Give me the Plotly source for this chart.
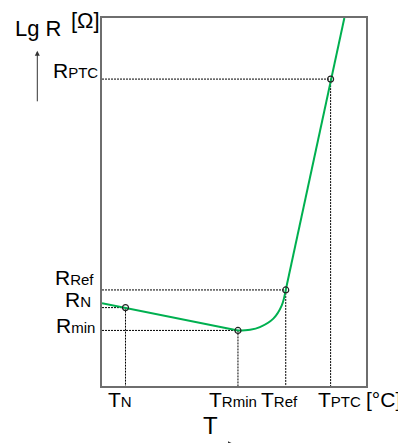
import plotly.graph_objects as go

# ---- data (arbitrary units: T 0..100 across the box, lgR 0..100 up the box)
left_T = [0, 51.5]
left_R = [22.5, 15.1]
bend_T = [51.5, 56.1, 59.8, 64.9, 68.1, 69.6]
bend_R = [15.1, 15.3, 16.0, 18.3, 21.9, 26.1]
steep_T = [69.6, 86.6, 91.8]
steep_R = [26.1, 83.4, 100.0]

point_T = [8.9, 51.5, 69.6, 86.6]
point_R = [21.3, 15.1, 26.1, 83.4]
point_T_sub = ["N", "Rmin", "Ref", "PTC"]
point_R_sub = ["N", "min", "Ref", "PTC"]

GREEN = "#00b050"
FONT = "Arial, Liberation Sans, sans-serif"
BIG = 21
SMALL = 15

fig = go.Figure()

# dashed guide lines
for t, r in zip(point_T, point_R):
    fig.add_trace(go.Scatter(x=[0, t], y=[r, r], mode="lines",
                             line=dict(color="black", width=1, dash="2px,1px"),
                             hoverinfo="skip", showlegend=False))
    fig.add_trace(go.Scatter(x=[t, t], y=[r, 0], mode="lines",
                             line=dict(color="black", width=1, dash="2px,1px"),
                             hoverinfo="skip", showlegend=False))

# curve
fig.add_trace(go.Scatter(x=left_T, y=left_R, mode="lines",
                         line=dict(color=GREEN, width=2), showlegend=False))
fig.add_trace(go.Scatter(x=bend_T, y=bend_R, mode="lines",
                         line=dict(color=GREEN, width=2, shape="spline", smoothing=1.0),
                         showlegend=False))
fig.add_trace(go.Scatter(x=steep_T, y=steep_R, mode="lines",
                         line=dict(color=GREEN, width=2), showlegend=False))

# markers
fig.add_trace(go.Scatter(x=point_T, y=point_R, mode="markers",
                         marker=dict(size=6, color="rgba(255,255,255,0)",
                                     line=dict(color="#222", width=1.2)),
                         showlegend=False))

OFF = 8  # page body margin
W, H = 406, 443
L, T_ = 102 - OFF, 16 - OFF
R_ = W + OFF - 366
B_ = H + OFF - 386
PW, PH = W - L - R_, H - T_ - B_


def px(x):
    return (x - OFF - L) / PW


def py(y):
    return (H - B_ - (y - OFF)) / PH


def lab(sub):
    return f"R<span style='font-size:{SMALL}px'>{sub}</span>"


def tlab(sub):
    return f"T<span style='font-size:{SMALL}px'>{sub}</span>"


ann = []
# R labels (right-aligned at left of box), placed by baseline pixel
for s, xr, base in zip(point_R_sub, [93, 97, 96, 100], [307.7, 334, 285, 77]):
    ann.append(dict(x=px(xr), y=py(base + 5), xref="paper", yref="paper",
                    text=lab(s), showarrow=False, xanchor="right", yanchor="bottom",
                    font=dict(size=BIG, family=FONT, color="black")))

# T labels along bottom
for s, xl in zip(point_T_sub, [106, 207, 259, 316]):
    ann.append(dict(x=px(xl), y=py(386), xref="paper", yref="paper",
                    text=tlab(s), showarrow=False, xanchor="left", yanchor="top",
                    font=dict(size=BIG, family=FONT, color="black")))

ann.append(dict(x=px(364), y=py(386), xref="paper", yref="paper", text="[°C]",
                showarrow=False, xanchor="left", yanchor="top",
                font=dict(size=BIG, family=FONT, color="black")))
ann.append(dict(x=px(201), y=py(410.5), xref="paper", yref="paper", text="T",
                showarrow=False, xanchor="left", yanchor="top",
                font=dict(size=24, family=FONT, color="black")))
ann.append(dict(x=px(13), y=py(41), xref="paper", yref="paper", text="Lg R",
                showarrow=False, xanchor="left", yanchor="bottom",
                font=dict(size=22, family=FONT, color="black")))
ann.append(dict(x=px(69), y=py(33), xref="paper", yref="paper", text="[Ω]",
                showarrow=False, xanchor="left", yanchor="bottom",
                font=dict(size=22, family=FONT, color="black")))
# vertical arrow on the left
ann.append(dict(x=px(37.3), y=py(49), ax=0, ay=52, xref="paper", yref="paper",
                axref="pixel", ayref="pixel", text="", showarrow=True, arrowhead=2,
                arrowsize=1, arrowwidth=1, arrowcolor="#333"))
# small arrow at bottom (mostly cut off)
ann.append(dict(x=px(233), y=py(444), ax=-9, ay=0, xref="paper", yref="paper",
                axref="pixel", ayref="pixel", text="", showarrow=True, arrowhead=2,
                arrowsize=1, arrowwidth=1, arrowcolor="#333"))

axis_common = dict(range=[0, 100], showgrid=False, zeroline=False, showticklabels=False,
                   ticks="", showline=True, mirror=True, linecolor="#6e6e6e", linewidth=1.5,
                   fixedrange=True)

fig.update_layout(
    width=W, height=H,
    margin=dict(l=L, r=R_, t=T_, b=B_),
    paper_bgcolor="white", plot_bgcolor="white",
    xaxis=axis_common, yaxis=axis_common,
    annotations=ann,
    showlegend=False,
)

fig.write_html("out.html")
